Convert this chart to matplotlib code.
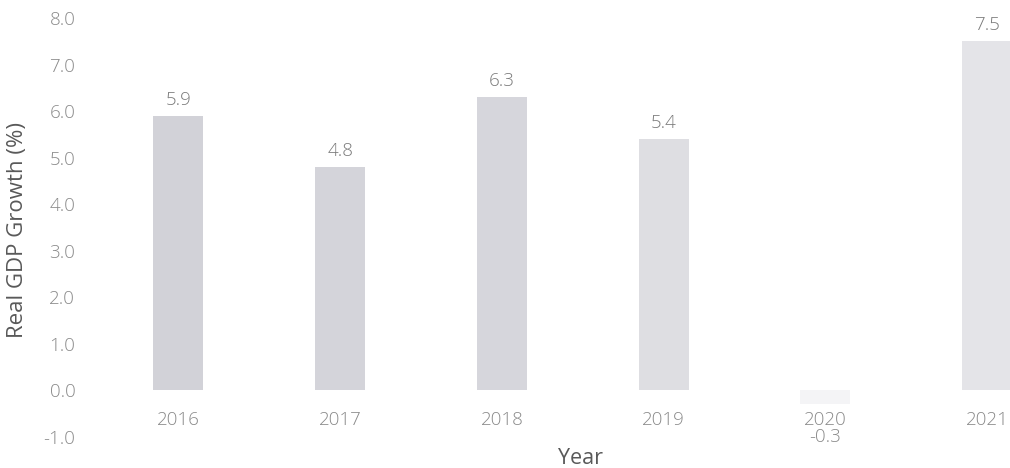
import matplotlib
matplotlib.use("Agg")
import matplotlib.pyplot as plt

years = ["2016", "2017", "2018", "2019", "2020", "2021"]
growth = [5.9, 4.8, 6.3, 5.4, -0.3, 7.5]
yticks = [-1.0, 0.0, 1.0, 2.0, 3.0, 4.0, 5.0, 6.0, 7.0, 8.0]
bar_colors = ["#d2d2d8", "#d4d4da", "#d6d6dc", "#dedee2", "#f4f4f6", "#e4e4e8"]

plt.rcParams['font.family'] = ['Open Sans', 'DejaVu Sans']

W, H = 1010, 468
fig = plt.figure(figsize=(W / 100, H / 100), dpi=100)
left_px, right_px = 97.5, 1068
top_px, bot_px = 18, 437
ax = fig.add_axes([left_px / W, 1 - bot_px / H, (right_px - left_px) / W, (bot_px - top_px) / H])

x = list(range(len(years)))
ax.bar(x, growth, width=0.31, color=bar_colors, edgecolor="none")
ax.set_xlim(-0.5, len(years) - 0.5)
ax.set_ylim(-1.0, 8.0)

for s in ax.spines.values():
    s.set_visible(False)
ax.spines['bottom'].set_position(('data', 0))

fs = 13.5
ax.set_yticks(yticks)
ax.set_yticklabels([f"{v:.1f}" for v in yticks], fontsize=fs, color="#8a8a8a", fontweight="light")
ax.tick_params(axis='y', length=0, pad=16)
ax.set_xticks(x)
ax.set_xticklabels(years, fontsize=fs, color="#8a8a8a", fontweight="light")
ax.tick_params(axis='x', length=0, pad=15)

for xi, v in zip(x, growth):
    if v >= 0:
        ax.annotate(f"{v:.1f}", (xi, v), xytext=(0, 5), textcoords="offset points",
                    ha="center", va="bottom", fontsize=fs, color="#7a7a7a", fontweight="light")
    else:
        ax.annotate(f"{v:.1f}", (xi, 0), xytext=(0, -27), textcoords="offset points",
                    ha="center", va="top", fontsize=fs, color="#8a8a8a", fontweight="light")

fig.text(18 / W, 1 - 230 / H, "Real GDP Growth (%)", rotation=90, ha="center", va="center",
         fontsize=16, color="#595959")
fig.text(580 / W, 1 - 458 / H, "Year", ha="center", va="center", fontsize=15.5, color="#595959")

fig.savefig("out.png", dpi=100)
